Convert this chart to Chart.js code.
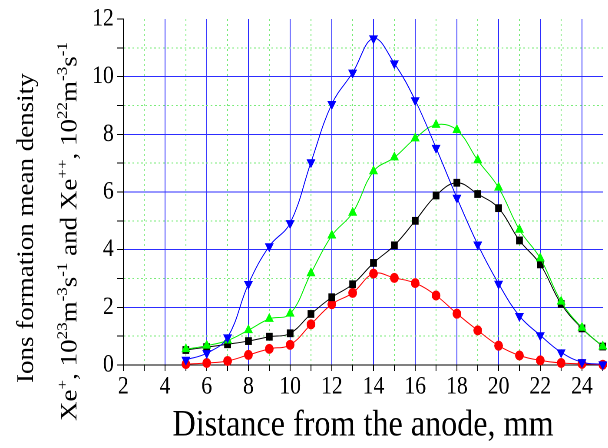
<!DOCTYPE html>
<html>
<head>
<meta charset="utf-8">
<script src="https://cdn.jsdelivr.net/npm/chart.js@4"></script>
<style>
  html, body { margin: 0; padding: 0; background: #fff; overflow: hidden; }
  /* the original picture is a little narrower than its fonts: squeeze the whole chart */
  #wrap { width: 700px; height: 448px; transform: scaleX(0.8686); transform-origin: 0 0; }
  #fontprobe { position: absolute; left: -9999px; font-family: "Liberation Serif"; }
</style>
</head>
<body>
<div id="wrap"><canvas id="chart" width="700" height="448"></canvas></div>
<div id="fontprobe">Ions 0123456789</div>
<script>
// distance from the anode, mm
const distance = [5, 6, 7, 8, 9, 10, 11, 12, 13, 14, 15, 16, 17, 18, 19, 20, 21, 22, 23, 24, 25];

// ion formation mean density (four curves)
const blueDown    = [0.18, 0.41, 0.96, 2.81, 4.12, 4.92, 7.03, 9.05, 10.14, 11.33, 10.46, 9.18, 7.53, 5.80, 4.18, 2.82, 1.70, 1.03, 0.44, 0.10, 0.02];
const greenUp     = [0.55, 0.67, 0.85, 1.21, 1.60, 1.78, 3.18, 4.49, 5.28, 6.72, 7.20, 7.86, 8.33, 8.15, 7.10, 6.15, 4.69, 3.70, 2.20, 1.29, 0.64];
const blackSquare = [0.52, 0.62, 0.72, 0.83, 0.98, 1.10, 1.77, 2.35, 2.80, 3.54, 4.15, 5.00, 5.88, 6.32, 5.93, 5.44, 4.32, 3.49, 2.12, 1.27, 0.64];
const redCircle   = [0.03, 0.07, 0.14, 0.35, 0.56, 0.70, 1.41, 2.11, 2.50, 3.17, 3.02, 2.84, 2.41, 1.78, 1.20, 0.67, 0.33, 0.16, 0.07, 0.04, 0.01];

// axis ranges and tick labels
const xMin = 2, xMax = 25;
const yMin = 0, yMax = 12;
const xTickLabels = [2, 4, 6, 8, 10, 12, 14, 16, 18, 20, 22, 24];
const yTickLabels = [0, 2, 4, 6, 8, 10, 12];

const FONT = "'Liberation Serif', 'Times New Roman', 'DejaVu Serif', serif";
const MAJOR = 'rgb(45,45,255)';
const MINOR = 'rgb(120,235,120)';

function pts(ys) {
    return ys.map((y, i) => ({ x: distance[i], y: y }));
}

// blue solid line on even values, green dots on odd values, nothing on the frame edges
function gridColor(ctx, labels, edge) {
    if (!ctx.tick) return 'rgba(0,0,0,0)';
    const v = ctx.tick.value;
    if (v === edge) return 'rgba(0,0,0,0)';
    return labels.includes(v) ? MAJOR : MINOR;
}
function gridDash(ctx, labels) {
    if (!ctx.tick) return [];
    return labels.includes(ctx.tick.value) ? [] : [2, 3];
}

// two-line y title with superscripts
const yTitleLine1 = 'Ions formation mean density';
const yTitleLine2 = [
    ['Xe', 0], ['+', 1], [', ', 0], ['10', 0], ['23', 1], ['m', 0], ['-3', 1], ['s', 0], ['-1', 1],
    [' and Xe', 0], ['++', 1], [', ', 0], ['10', 0], ['22', 1], ['m', 0], ['-3', 1], ['s', 0], ['-1', 1]
];

const yTitlePlugin = {
    id: 'yTitle',
    afterDraw(chart) {
        const ctx = chart.ctx;
        ctx.save();
        ctx.fillStyle = '#000';
        ctx.textBaseline = 'alphabetic';
        ctx.textAlign = 'left';

        // first line
        ctx.save();
        ctx.translate(38, 383);
        ctx.rotate(-Math.PI / 2);
        ctx.font = '27px ' + FONT;
        ctx.fillText(yTitleLine1, 0, 0);
        ctx.restore();

        // second line
        ctx.save();
        ctx.translate(88, 421);
        ctx.rotate(-Math.PI / 2);
        let cx = 0;
        yTitleLine2.forEach(([txt, sup]) => {
            ctx.font = (sup ? '17px ' : '27px ') + FONT;
            ctx.fillText(txt, cx, sup ? -11 : 0);
            cx += ctx.measureText(txt).width;
        });
        ctx.restore();

        ctx.restore();
    }
};

function createChart() {
    const ctx = document.getElementById('chart').getContext('2d');
    new Chart(ctx, {
        type: 'line',
        data: {
            datasets: [
                {
                    label: 'down triangles',
                    data: pts(blueDown),
                    borderColor: '#0000ff',
                    backgroundColor: '#0000ff',
                    pointStyle: 'triangle',
                    pointRotation: 180,
                    pointRadius: 6
                },
                {
                    label: 'up triangles',
                    data: pts(greenUp),
                    borderColor: '#00ee00',
                    backgroundColor: '#00ff00',
                    pointStyle: 'triangle',
                    pointRadius: 6
                },
                {
                    label: 'squares',
                    data: pts(blackSquare),
                    borderColor: '#000000',
                    backgroundColor: '#000000',
                    pointStyle: 'rect',
                    pointRadius: 5.5
                },
                {
                    label: 'circles',
                    data: pts(redCircle),
                    borderColor: '#ff0000',
                    backgroundColor: '#ff0000',
                    pointStyle: 'circle',
                    pointRadius: 5
                }
            ]
        },
        options: {
            responsive: false,
            animation: false,
            devicePixelRatio: 2,
            layout: { padding: 0 },
            font: { family: FONT },
            datasets: {
                line: {
                    borderWidth: 1,
                    tension: 0.4,
                    pointBorderWidth: 0,
                    pointHoverRadius: 6,
                    clip: false
                }
            },
            plugins: {
                legend: { display: false },
                tooltip: { enabled: false }
            },
            scales: {
                x: {
                    type: 'linear',
                    min: xMin,
                    max: xMax,
                    afterFit: s => { s.height = 83; },
                    ticks: {
                        stepSize: 1,
                        autoSkip: false,
                        maxRotation: 0,
                        padding: 1,
                        color: '#000',
                        font: { family: FONT, size: 25 },
                        callback: v => xTickLabels.includes(v) ? String(v) : ''
                    },
                    grid: {
                        color: c => gridColor(c, xTickLabels, xMax),
                        lineWidth: 1,
                        tickColor: '#000',
                        tickLength: 6
                    },
                    border: { color: '#000', width: 1, dash: c => gridDash(c, xTickLabels) },
                    title: {
                        display: true,
                        text: 'Distance from the anode, mm',
                        color: '#000',
                        font: { family: FONT, size: 37 },
                        padding: { top: 0, bottom: 0 }
                    }
                },
                y: {
                    type: 'linear',
                    min: yMin,
                    max: yMax,
                    afterFit: s => { s.width = 142; },
                    ticks: {
                        stepSize: 1,
                        autoSkip: false,
                        padding: 4,
                        color: '#000',
                        font: { family: FONT, size: 25 },
                        callback: v => yTickLabels.includes(v) ? String(v) : ''
                    },
                    grid: {
                        color: c => gridColor(c, yTickLabels, yMax),
                        lineWidth: 1,
                        tickColor: '#000',
                        tickLength: 7
                    },
                    border: { color: '#000', width: 1, dash: c => gridDash(c, yTickLabels) }
                }
            }
        },
        plugins: [yTitlePlugin]
    });
}

Chart.defaults.font.family = FONT;
if (document.fonts && document.fonts.load) {
    document.fonts.load("27px 'Liberation Serif'").then(createChart, createChart);
} else {
    createChart();
}
</script>
</body>
</html>
